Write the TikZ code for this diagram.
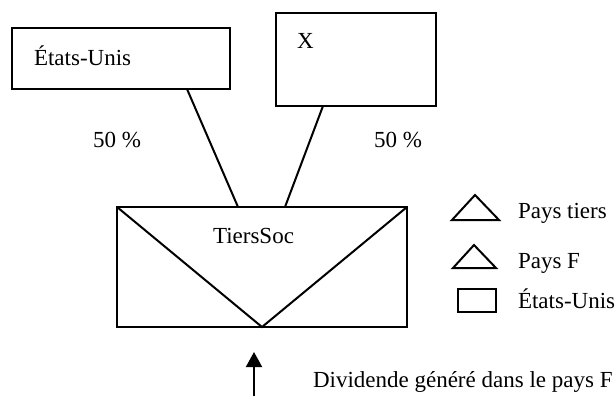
\documentclass[tikz,border=0pt]{standalone}
\usepackage{fontspec}
\setmainfont{Liberation Serif}
\usetikzlibrary{arrows.meta,calc}
\begin{document}
\begin{tikzpicture}[x=0.5pt,y=-0.5pt,
  line width=1pt,
  box/.style={draw=black, line width=1pt, inner sep=0pt, outer sep=0pt},
  lbl/.style={inner sep=0pt, anchor=base west, font=\fontsize{11.5}{13.8}\selectfont},
  conn/.style={draw=black, line width=1pt},
  legtri/.style={draw=black, line width=1pt, line join=miter}
]
\useasboundingbox (0,0) rectangle (615,396);

% boxes
\node[box, minimum width=109pt, minimum height=30.5pt] (eu) at (121,58.5) {};
\node[box, minimum width=80pt, minimum height=46.5pt] (xb) at (356,59.5) {};
\node[box, minimum width=145pt, minimum height=60pt] (tiers) at (262,267) {};

% texts
\node[lbl] (eutxt) at (33,65) {États-Unis};
\node[lbl] (xtxt) at (296,48) {X};
\node[lbl] (tierstxt) at (212,243) {TiersSoc};
\node[lbl] (pl) at (92,147) {50 \%};
\node[lbl] (pr) at (373,147) {50 \%};

% V inside TiersSoc
\draw[conn] (tiers.north west) -- (tiers.south) -- (tiers.north east);

% connectors
\draw[conn] ($(eu.south west)+(175,0)$) -- ($(tiers.north west)+(121,0)$);
\draw[conn] ($(xb.south west)+(47,0)$) -- ($(tiers.north west)+(168,0)$);

% dividend arrow
\coordinate (divfoot) at (254,396);
\coordinate (divtip) at (254,352);
\draw[conn, -{Triangle[width=8pt,length=7.5pt]}] (divfoot) -- (divtip);
\node[lbl] (divtxt) at (312,387) {Dividende généré dans le pays F};

% legend
\draw[legtri] (452,220) -- (475,195) -- (499,220) -- cycle;
\node[lbl] (leg1) at (517,218) {Pays tiers};
\draw[legtri] (453,268) -- (474,245) -- (496,268) -- cycle;
\node[lbl] (leg2) at (517,268) {Pays F};
\node[box, minimum width=19pt, minimum height=11.5pt] (legrect) at (477,300.5) {};
\node[lbl] (leg3) at (517,308) {États-Unis};
\end{tikzpicture}
\end{document}
